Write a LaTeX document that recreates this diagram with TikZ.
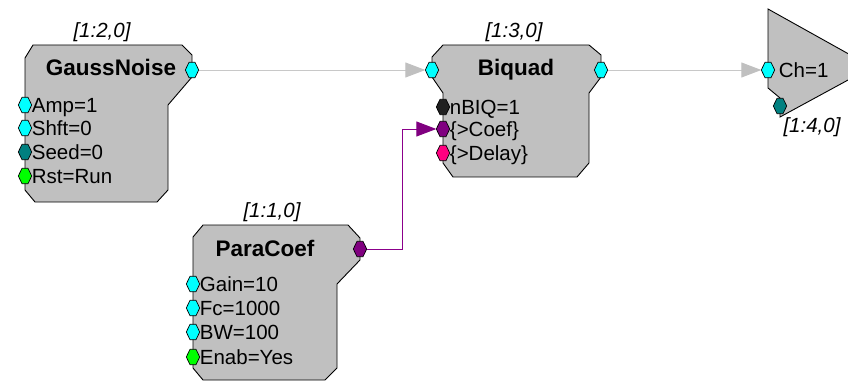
\documentclass[tikz,border=0pt]{standalone}
\usepackage{fontspec}
\setmainfont{Liberation Sans}
\usetikzlibrary{arrows.meta,positioning}
\definecolor{blockfill}{HTML}{C0C0C0}
\definecolor{pcyan}{HTML}{00FFFF}
\definecolor{pteal}{HTML}{008080}
\definecolor{pgreen}{HTML}{00FF00}
\definecolor{pdark}{HTML}{202020}
\definecolor{ppurple}{HTML}{800080}
\definecolor{ppink}{HTML}{FF0080}
\definecolor{wiregray}{HTML}{C8C8C8}
\definecolor{wirepurple}{HTML}{8B008B}

\begin{document}
\begin{tikzpicture}[x=1pt,y=-1pt,
  block/.style={draw=black,fill=blockfill,line width=0.9pt,line join=miter},
  port/.style={minimum width=13pt,minimum height=15pt,inner sep=0pt,
    append after command={\pgfextra{\let\pn\tikzlastnode
      \draw[black,fill=#1,line width=0.7pt] (\pn.west) -- ([xshift=-3pt]\pn.north) -- ([xshift=3pt]\pn.north) -- (\pn.east) -- ([xshift=3pt]\pn.south) -- ([xshift=-3pt]\pn.south) -- cycle;}}},
  title/.style={font=\fontsize{22.5}{22.5}\selectfont\bfseries,text height=16pt,text depth=0pt,inner sep=0pt},
  param/.style={font=\fontsize{20.5}{20.5}\selectfont,text height=14.6pt,text depth=0pt,inner sep=0pt},
  tag/.style={font=\fontsize{20.5}{20.5}\selectfont\itshape,text height=14.6pt,text depth=0pt,inner sep=0pt},
  graywire/.style={draw=wiregray,line width=0.9pt,-{Triangle[length=20pt,width=15pt,fill=blockfill,color=blockfill]}},
  purplewire/.style={draw=wirepurple,line width=0.9pt,-{Triangle[length=20pt,width=15pt,fill=ppurple,color=ppurple]}}
]
\clip (0,0) rectangle (848,382);
\useasboundingbox (0,0) rectangle (848,382);

\draw[block] (33,45) -- (182,45) -- (192,55) -- (192,77) -- (168,105) -- (168,190) -- (157,202) -- (35,202) -- (25,190) -- (25,58) -- cycle;
\draw[block] (443,45) -- (589,45) -- (601,55) -- (601,77) -- (589,93) -- (589,163) -- (577,177) -- (453,177) -- (443,163) -- (443,93) -- (432,77) -- (432,57) -- cycle;
\draw[block] (203,225) -- (348,225) -- (360,238) -- (360,260) -- (337,284) -- (337,368) -- (325,380) -- (203,380) -- (193,368) -- (193,237) -- cycle;
\draw[block] (768,9) -- (872,67) -- (780,117) -- (780,98) -- (768,88) -- cycle;

\node[title] (gn-title) at (111,68) {GaussNoise};
\node[tag] (gn-tag) at (102,30) {[1:2,0]};
\node[port=pcyan] (gn-out) at (192,70) {};
\node[port=pcyan] (gn-amp) at (25,105) {};
\node[port=pcyan] (gn-shft) at (25,128) {};
\node[port=pteal] (gn-seed) at (25,152) {};
\node[port=pgreen] (gn-rst) at (25,176) {};
\node[param,right=0pt of gn-amp] {Amp=1};
\node[param,right=0pt of gn-shft] {Shft=0};
\node[param,right=0pt of gn-seed] {Seed=0};
\node[param,right=0pt of gn-rst] {Rst=Run};

\node[title] (bq-title) at (516,68) {Biquad};
\node[tag] (bq-tag) at (514,30) {[1:3,0]};
\node[port=pcyan] (bq-in) at (432,70) {};
\node[port=pcyan] (bq-out) at (601,70) {};
\node[port=pdark] (bq-nbiq) at (443,107) {};
\node[port=ppurple] (bq-coef) at (443,129) {};
\node[port=ppink] (bq-delay) at (443,153) {};
\node[param,right=0pt of bq-nbiq] {nBIQ=1};
\node[param,right=0pt of bq-coef] {\{>Coef\}};
\node[param,right=0pt of bq-delay] {\{>Delay\}};

\node[title] (pc-title) at (265,248) {ParaCoef};
\node[tag] (pc-tag) at (272,210) {[1:1,0]};
\node[port=ppurple] (pc-out) at (360,249) {};
\node[port=pcyan] (pc-gain) at (193,284) {};
\node[port=pcyan] (pc-fc) at (193,308) {};
\node[port=pcyan] (pc-bw) at (193,332) {};
\node[port=pgreen] (pc-enab) at (193,357) {};
\node[param,right=0pt of pc-gain] {Gain=10};
\node[param,right=0pt of pc-fc] {Fc=1000};
\node[param,right=0pt of pc-bw] {BW=100};
\node[param,right=0pt of pc-enab] {Enab=Yes};

\node[port=pcyan] (dac-in) at (768,70) {};
\node[port=pteal] (dac-aux) at (780,106) {};
\node[param,right=4pt of dac-in] {Ch=1};
\node[tag] (dac-tag) at (812,125) {[1:4,0]};

\draw[graywire] (gn-out.east) -- (bq-in.west);
\draw[graywire] (bq-out.east) -- (dac-in.west);
\draw[purplewire] (pc-out.east) -- ++(36,0) |- (bq-coef.west);
\end{tikzpicture}
\end{document}
